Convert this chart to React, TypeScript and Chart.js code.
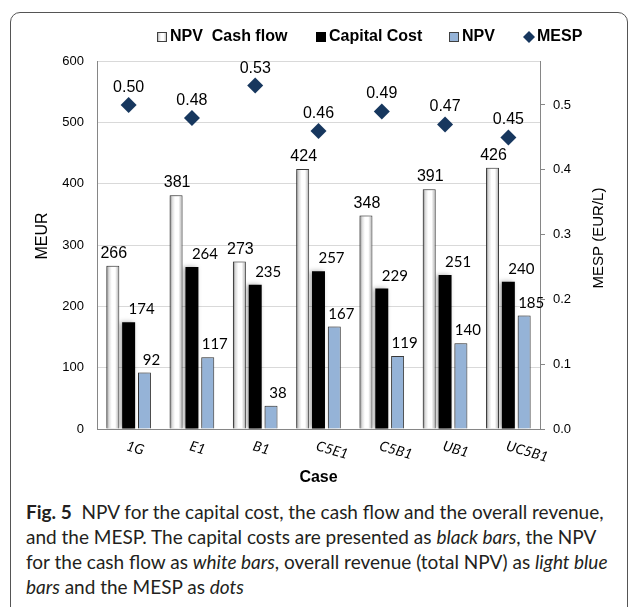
import React, { useEffect, useRef } from "react";
import { Chart, registerables } from "chart.js";

Chart.register(...registerables);

const categories = ["1G", "E1", "B1", "C5E1", "C5B1", "UB1", "UC5B1"];
const cashFlow = [266, 381, 273, 424, 348, 391, 426];
const capitalCost = [174, 264, 235, 257, 229, 251, 240];
const npv = [92, 117, 38, 167, 119, 140, 185];
const mesp = [0.5, 0.48, 0.53, 0.46, 0.49, 0.47, 0.45];
const leftTicks = [0, 100, 200, 300, 400, 500, 600];
const rightTicks = [0, 0.1, 0.2, 0.3, 0.4, 0.5];
const seriesNames = ["NPV  Cash flow", "Capital Cost", "NPV", "MESP"];

const ARIAL = "'Liberation Sans', Arial, sans-serif";
const CAL = "Lato, 'Open Sans', sans-serif";
const NAVY = "#17375E";
const BLUE = "#95B3D7";

function whiteGradient(ctx: CanvasRenderingContext2D, x0: number, x1: number) {
  const g = ctx.createLinearGradient(x0, 0, x1, 0);
  g.addColorStop(0, "#7a7a7a");
  g.addColorStop(0.2, "#dcdcdc");
  g.addColorStop(0.42, "#ffffff");
  g.addColorStop(0.68, "#ffffff");
  g.addColorStop(1, "#a8a8a8");
  return g;
}

const decorPlugin = {
  id: "decor",
  beforeDatasetDraw(chart: any, args: any) {
    const ctx = chart.ctx;
    if (args.index === 0) {
      args.meta.data.forEach((el: any) => {
        const { x, width } = el.getProps(["x", "width"], true);
        el.options = Object.assign({}, el.options, {
          backgroundColor: whiteGradient(ctx, x - width / 2, x + width / 2),
        });
      });
    }
    if (args.index <= 2) {
      ctx.save();
      ctx.shadowColor = "rgba(0,0,0,0.35)";
      ctx.shadowBlur = 5;
      ctx.shadowOffsetX = -2;
      ctx.shadowOffsetY = 0;
    }
  },
  afterDatasetDraw(chart: any, args: any) {
    if (args.index <= 2) chart.ctx.restore();
  },
  afterDatasetsDraw(chart: any) {
    const ctx: CanvasRenderingContext2D = chart.ctx;
    const values = [cashFlow, capitalCost, npv];
    const offsets = [1, 13, 7];
    const fonts = [`16px ${ARIAL}`, `15px ${CAL}`, `15px ${CAL}`];
    ctx.save();
    ctx.fillStyle = "#000";
    ctx.textAlign = "center";
    ctx.textBaseline = "alphabetic";
    for (let d = 0; d < 3; d++) {
      const meta = chart.getDatasetMeta(d);
      ctx.font = fonts[d];
      meta.data.forEach((el: any, i: number) => {
        ctx.fillText(String(values[d][i]), el.x + offsets[d], el.y - 8);
      });
    }
    const m3 = chart.getDatasetMeta(3);
    ctx.font = `16px ${ARIAL}`;
    m3.data.forEach((el: any, i: number) => {
      ctx.fillText(mesp[i].toFixed(2), el.x, el.y - 13);
    });
    ctx.restore();
  },
  afterDraw(chart: any) {
    const ctx: CanvasRenderingContext2D = chart.ctx;
    const xs = chart.scales.x;
    ctx.save();
    ctx.fillStyle = "#000";
    // category labels, rotated
    ctx.font = `italic 14px ${CAL}`;
    ctx.textAlign = "left";
    ctx.textBaseline = "top";
    categories.forEach((c, i) => {
      const x = xs.getPixelForValue(i);
      ctx.save();
      ctx.translate(x, 439);
      ctx.rotate((16 * Math.PI) / 180);
      ctx.fillText(c, 0, 0);
      ctx.restore();
    });
    // axis titles
    ctx.textAlign = "center";
    ctx.textBaseline = "middle";
    ctx.font = `bold 16px ${ARIAL}`;
    ctx.fillText("Case", (chart.chartArea.left + chart.chartArea.right) / 2, 478);
    ctx.font = `16px ${ARIAL}`;
    ctx.save();
    ctx.translate(43, 236);
    ctx.rotate(-Math.PI / 2);
    ctx.fillText("MEUR", 0, 0);
    ctx.restore();
    ctx.font = `15px ${ARIAL}`;
    ctx.save();
    ctx.translate(599, 238);
    ctx.rotate(-Math.PI / 2);
    ctx.fillText("MESP (EUR/L)", 0, 0);
    ctx.restore();

    // legend
    const ly = 37;
    ctx.font = `bold 16px ${ARIAL}`;
    ctx.textAlign = "left";
    ctx.textBaseline = "middle";
    ctx.fillStyle = whiteGradient(ctx, 157, 167);
    ctx.fillRect(157, ly - 5, 10, 10);
    ctx.strokeStyle = "#404040";
    ctx.lineWidth = 1;
    ctx.strokeRect(157.5, ly - 4.5, 9, 9);
    ctx.fillStyle = "#000";
    ctx.fillText(seriesNames[0], 170, ly);
    ctx.fillStyle = "#000";
    ctx.fillRect(316, ly - 5, 10, 10);
    ctx.fillText(seriesNames[1], 329, ly);
    ctx.fillStyle = BLUE;
    ctx.fillRect(449, ly - 5, 10, 10);
    ctx.strokeStyle = "#404040";
    ctx.strokeRect(449.5, ly - 4.5, 9, 9);
    ctx.fillStyle = "#000";
    ctx.fillText(seriesNames[2], 462, ly);
    ctx.fillStyle = NAVY;
    ctx.beginPath();
    ctx.moveTo(529, ly - 6);
    ctx.lineTo(535, ly);
    ctx.lineTo(529, ly + 6);
    ctx.lineTo(523, ly);
    ctx.closePath();
    ctx.fill();
    ctx.fillStyle = "#000";
    ctx.fillText(seriesNames[3], 537, ly);
    ctx.restore();
  },
};

function ChartView() {
  const ref = useRef<HTMLCanvasElement | null>(null);
  useEffect(() => {
    if (!ref.current) return;
    const chart = new Chart(ref.current, {
      type: "bar",
      data: {
        labels: categories,
        datasets: [
          {
            label: seriesNames[0],
            data: cashFlow,
            backgroundColor: "#ffffff",
            borderColor: "#404040",
            borderWidth: 1,
            yAxisID: "y",
            order: 2,
          },
          {
            label: seriesNames[1],
            data: capitalCost,
            backgroundColor: "#000000",
            borderColor: "#000000",
            borderWidth: 0,
            yAxisID: "y",
            order: 2,
          },
          {
            label: seriesNames[2],
            data: npv,
            backgroundColor: BLUE,
            borderColor: "#404040",
            borderWidth: 1,
            yAxisID: "y",
            order: 2,
          },
          {
            type: "line",
            label: seriesNames[3],
            data: mesp,
            yAxisID: "y1",
            showLine: false,
            pointStyle: "rectRot",
            pointRadius: 8,
            pointHoverRadius: 8,
            pointBackgroundColor: NAVY,
            pointBorderColor: NAVY,
            pointBorderWidth: 0,
            order: 1,
          } as any,
        ],
      },
      options: {
        responsive: false,
        animation: false,
        devicePixelRatio: 1,
        layout: { padding: { top: 61, left: 0, right: 0, bottom: 0 } },
        datasets: {
          bar: { barPercentage: 0.82, categoryPercentage: 0.75 },
        },
        plugins: {
          legend: { display: false },
          tooltip: { enabled: false },
        },
        scales: {
          x: {
            grid: { display: false },
            border: { display: true, color: "#868686" },
            ticks: { display: false },
            afterFit: (s: any) => {
              s.height = 66;
            },
          },
          y: {
            position: "left",
            min: 0,
            max: 600,
            afterBuildTicks: (s: any) => {
              s.ticks = leftTicks.map((v) => ({ value: v }));
            },
            grid: { color: "#d9d9d9", drawTicks: false },
            border: { display: true, color: "#868686" },
            ticks: {
              padding: 13,
              color: "#000",
              font: { family: ARIAL, size: 13 },
            },
            afterFit: (s: any) => {
              s.width = 97;
            },
          },
          y1: {
            position: "right",
            min: 0,
            max: 0.5679,
            afterBuildTicks: (s: any) => {
              s.ticks = rightTicks.map((v) => ({ value: v }));
            },
            grid: {
              drawOnChartArea: false,
              drawTicks: true,
              tickLength: 5,
              color: "#868686",
            },
            border: { display: true, color: "#868686" },
            ticks: {
              padding: 8,
              color: "#000",
              font: { family: ARIAL, size: 13 },
              callback: (v: any) => Number(v).toFixed(1),
            },
            afterFit: (s: any) => {
              s.width = 89;
            },
          },
        },
      },
      plugins: [decorPlugin],
    });
    return () => chart.destroy();
  }, []);
  return (
    <canvas
      ref={ref}
      width={629}
      height={495}
      style={{ position: "absolute", left: 0, top: 0, width: 629, height: 495 }}
    />
  );
}

export default function App() {
  const cap: React.CSSProperties = {
    position: "absolute",
    left: 26,
    top: 499,
    fontFamily: "Lato, 'Open Sans', sans-serif",
    fontSize: 19,
    lineHeight: "25px",
    color: "#231f20",
    whiteSpace: "nowrap",
  };
  return (
    <div
      style={{
        position: "fixed",
        left: 0,
        top: 0,
        width: 629,
        height: 607,
        overflow: "hidden",
        background: "#fff",
      }}
    >
      <div
        style={{
          position: "absolute",
          left: 10,
          top: 12,
          width: 618,
          height: 606,
          boxSizing: "border-box",
          border: "1px solid #555",
          borderRadius: 10,
        }}
      />
      <ChartView />
      <div style={cap}>
        <div>
          <b>Fig. 5</b>&nbsp;&nbsp;NPV for the capital cost, the cash flow and the overall revenue,
        </div>
        <div>
          and the MESP. The capital costs are presented as <i>black bars</i>, the NPV
        </div>
        <div>
          for the cash flow as <i>white bars</i>, overall revenue (total NPV) as <i>light blue</i>
        </div>
        <div>
          <i>bars</i> and the MESP as <i>dots</i>
        </div>
      </div>
    </div>
  );
}
